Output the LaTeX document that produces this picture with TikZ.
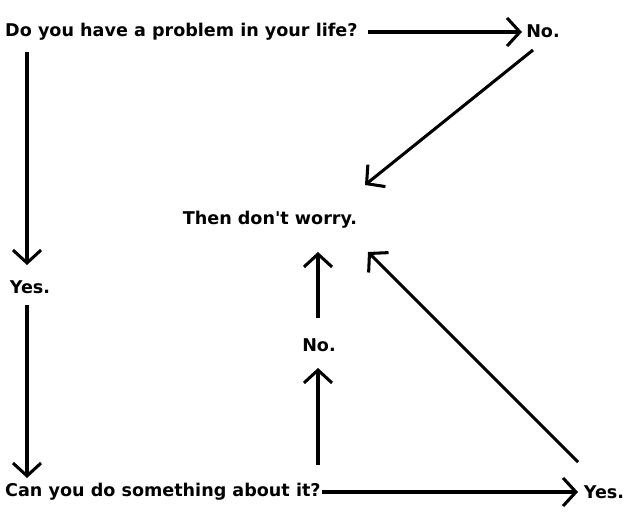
\documentclass[tikz,border=0pt]{standalone}
\usepackage{fontspec}
\setmainfont[Ligatures=NoCommon]{DejaVu Sans}
\usetikzlibrary{arrows.meta}
\begin{document}
\begin{tikzpicture}[x=0.03cm,y=-0.03cm,
  lbl/.style={font=\bfseries\fontsize{15}{17}\selectfont, inner sep=0pt},
  arr/.style={line width=2.6pt, -{Straight Barb[length=11pt,width=24pt,line width=2.6pt]}}]
\useasboundingbox (0,0) rectangle (634,515);
\node[lbl, anchor=west] (q1) at (5,32) {Do you have a problem in your life?};
\node[lbl] (n1) at (543,31) {No.};
\node[lbl] (w) at (270,220) {Then don\textquotesingle t worry.};
\node[lbl] (y1) at (30,287) {Yes.};
\node[lbl, anchor=west] (q2) at (5,492) {Can you do something about it?};
\node[lbl] (n2) at (319,345) {No.};
\node[lbl] (y2) at (604,492) {Yes.};
\coordinate (a1s) at (368,32); \coordinate (a1e) at (522,32);
\coordinate (a2s) at (533,50); \coordinate (a2e) at (365,185);
\coordinate (a3s) at (27,52); \coordinate (a3e) at (27,265);
\coordinate (a4s) at (27,305); \coordinate (a4e) at (27,478);
\coordinate (a5s) at (322,492); \coordinate (a5e) at (578,492);
\coordinate (a6s) at (318,465); \coordinate (a6e) at (318,368);
\coordinate (a7s) at (318,318); \coordinate (a7e) at (318,252);
\coordinate (a8s) at (578,462); \coordinate (a8e) at (368,252);
\foreach \i in {1,...,8} \draw[arr] (a\i s) -- (a\i e);
\end{tikzpicture}
\end{document}
